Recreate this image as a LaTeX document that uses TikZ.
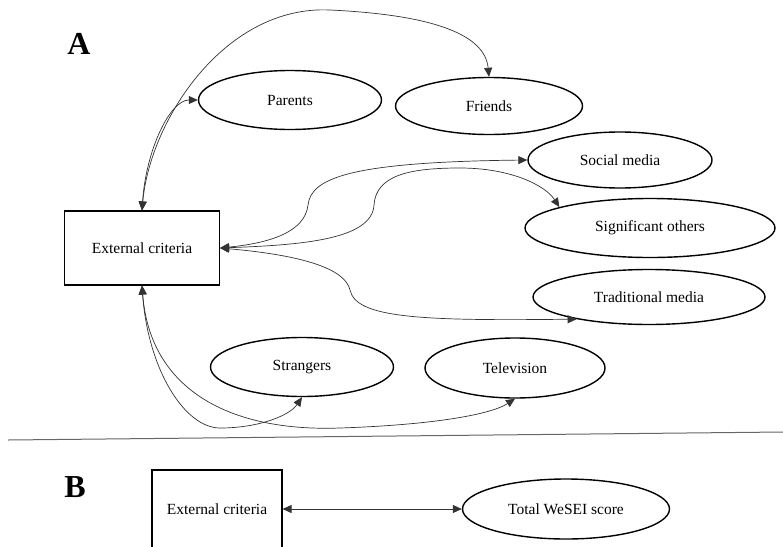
\documentclass[tikz,border=0pt]{standalone}
\usepackage{fontspec}
\setmainfont{Liberation Serif}
\usetikzlibrary{shapes.geometric,arrows.meta}

\begin{document}
\begin{tikzpicture}[x=1pt, y=-1pt,
  crit/.style={draw, line width=1.1pt, minimum width=155pt, minimum height=74pt, font=\fontsize{15.5}{18}\selectfont},
  factor/.style={ellipse, draw, line width=1.4pt, inner sep=0pt, font=\fontsize{15.5}{18}\selectfont},
  link/.style={black!80, line width=0.7pt, {Triangle[length=9pt,width=8pt]}-{Triangle[length=9pt,width=8pt]}},
  panel/.style={font=\fontsize{32}{36}\selectfont\bfseries}]
  \useasboundingbox (0,0) rectangle (783,546);
  \node[panel] (A) at (79,44) {A};
  \node[crit] (ext) at (142,248) {External criteria};
  \node[factor, minimum width=183pt, minimum height=59pt] (par) at (290,100) {Parents};
  \node[factor, minimum width=187pt, minimum height=57pt] (fri) at (489,106) {Friends};
  \node[factor, minimum width=184pt, minimum height=56pt] (soc) at (620,160) {Social media};
  \node[factor, minimum width=250pt, minimum height=59pt] (sig) at (650,228) {Significant others};
  \node[factor, minimum width=232pt, minimum height=55pt] (tra) at (649,297) {Traditional media};
  \node[factor, minimum width=183pt, minimum height=59pt] (str) at (302,367) {Strangers};
  \node[factor, minimum width=180pt, minimum height=60pt] (tel) at (515,368) {Television};
  \draw[link] (ext.north) .. controls (146,150) and (170,100) .. (par.west);
  \draw[link] (ext.north) .. controls (150,120) and (225,5) .. (330,10) .. controls (435,15) and (485,35) .. (fri.north);
  \draw[link] (ext.east) .. controls (270,243) and (305,232) .. (308,205) .. controls (311,178) and (350,162) .. (soc.west);
  \draw[link] (ext.east) .. controls (300,245) and (372,240) .. (374,205) .. controls (376,175) and (410,168) .. (460,168) .. controls (510,168) and (545,185) .. (sig.167);
  \draw[link] (ext.east) .. controls (300,255) and (345,268) .. (350,290) .. controls (356,318) and (420,321) .. (tra.197);
  \draw[link] (ext.south) .. controls (148,370) and (185,428) .. (220,428) .. controls (260,428) and (290,415) .. (str.south);
  \draw[link] (ext.south) .. controls (150,390) and (230,432) .. (340,428) .. controls (430,425) and (490,415) .. (tel.south);
  \draw[black!60, line width=1pt] (8,440) -- (783,432);
  \node[panel] (B) at (75,487) {B};
  \node[crit, minimum width=130pt, minimum height=78pt] (extB) at (217,509) {External criteria};
  \node[factor, minimum width=207pt, minimum height=60pt] (tot) at (566,509) {Total WeSEI score};
  \draw[link] (extB) -- (tot);
\end{tikzpicture}
\end{document}
